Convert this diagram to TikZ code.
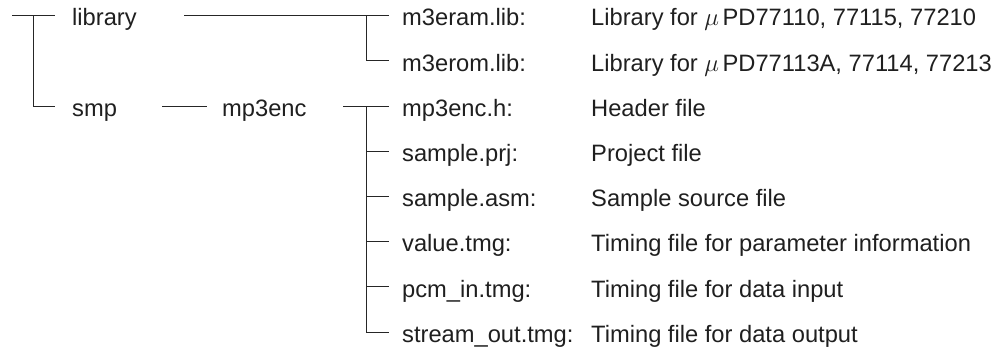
\documentclass[tikz,border=0pt]{standalone}
\usepackage{fontspec}
\setmainfont{Liberation Sans}
\begin{document}
\begin{tikzpicture}[x=1pt,y=-1pt,
  conn/.style={line width=0.9pt, draw=black!85},
  lbl/.style={anchor=base west, inner sep=0pt,
    font=\fontsize{23.7}{28}\selectfont, text=black!88}]
\useasboundingbox (0,0) rectangle (1007,347);
% row positions (line height of each entry) and baseline offset
\def\rowgap{45.2}
\def\bl{10.3}
\foreach \i/\n in {0/A,1/B,2/C,3/D,4/E,5/F,6/G,7/H}{
  \pgfmathsetmacro\yy{15.7+\rowgap*\i}
  \expandafter\xdef\csname row\n\endcsname{\yy}}

% level 1 folders
\node[lbl] (lib) at (72,\rowA+\bl) {library};
\node[lbl] (smp) at (72,\rowC+\bl) {smp};
% level 2 folder
\node[lbl] (enc) at (222,\rowC+\bl) {mp3enc};

% files
\node[lbl] (fA) at (402,\rowA+\bl) {m3eram.lib:};
\node[lbl] (fB) at (402,\rowB+\bl) {m3erom.lib:};
\node[lbl] (fC) at (402,\rowC+\bl) {mp3enc.h:};
\node[lbl] (fD) at (402,\rowD+\bl) {sample.prj:};
\node[lbl] (fE) at (402,\rowE+\bl) {sample.asm:};
\node[lbl] (fF) at (402,\rowF+\bl) {value.tmg:};
\node[lbl] (fG) at (402,\rowG+\bl) {pcm\_in.tmg:};
\node[lbl] (fH) at (402,\rowH+\bl) {stream\_out.tmg:};

% descriptions
\node[lbl] (dA) at (591,\rowA+\bl) {Library for $\mu$\kern3.5pt PD77110, 77115, 77210};
\node[lbl] (dB) at (591,\rowB+\bl) {Library for $\mu$\kern3.5pt PD77113A, 77114, 77213};
\node[lbl] (dC) at (591,\rowC+\bl) {Header file};
\node[lbl] (dD) at (591,\rowD+\bl) {Project file};
\node[lbl] (dE) at (591,\rowE+\bl) {Sample source file};
\node[lbl] (dF) at (591,\rowF+\bl) {Timing file for parameter information};
\node[lbl] (dG) at (591,\rowG+\bl) {Timing file for data input};
\node[lbl] (dH) at (591,\rowH+\bl) {Timing file for data output};

% connector end points
\coordinate (root)   at (12,\rowA);
\coordinate (rootJ)  at (33.3,\rowA);
\coordinate (libIn)  at (55,\rowA);
\coordinate (smpIn)  at (55,\rowC);
\coordinate (libOut) at (184,\rowA);
\coordinate (libJ)   at (366,\rowA);
\coordinate (smpOut) at (162,\rowC);
\coordinate (encIn)  at (207,\rowC);
\coordinate (encOut) at (343,\rowC);
\coordinate (encJ)   at (366,\rowC);
\foreach \n in {A,B,C,D,E,F,G,H}{
  \coordinate (in\n) at (389,\csname row\n\endcsname);}

% tree lines
\draw[conn] (root) -- (libIn);
\draw[conn] (rootJ) |- (smpIn);
\draw[conn] (libOut) -- (inA);
\draw[conn] (libJ) |- (inB);
\draw[conn] (smpOut) -- (encIn);
\draw[conn] (encOut) -- (inC);
\draw[conn] (encJ) |- (inH);
\foreach \n in {D,E,F,G}{
  \draw[conn] (encJ |- in\n) -- (in\n);}
\end{tikzpicture}
\end{document}
